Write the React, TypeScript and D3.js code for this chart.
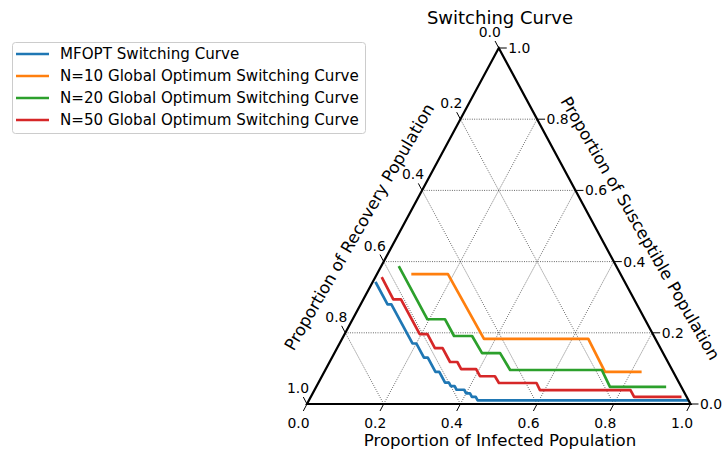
import React from "react";
import * as d3 from "d3";

const titleText = "Switching Curve";
const bottomAxisLabel = "Proportion of Infected Population";
const leftAxisLabel = "Proportion of Recovery Population";
const rightAxisLabel = "Proportion of Susceptible Population";

const seriesNames = [
  "MFOPT Switching Curve",
  "N=10 Global Optimum Switching Curve",
  "N=20 Global Optimum Switching Curve",
  "N=50 Global Optimum Switching Curve",
];
const seriesColors = ["#1f77b4", "#ff7f0e", "#2ca02c", "#d62728"];

const tickValues = [0, 0.2, 0.4, 0.6, 0.8, 1.0];
const tickLabels = ["0.0", "0.2", "0.4", "0.6", "0.8", "1.0"];
const gridValues = [0.2, 0.4, 0.6, 0.8];

// MFOPT curve: infected / susceptible proportions at the staircase corners
const mfoptInfected = [0.01, 0.07, 0.08, 0.19, 0.2, 0.24, 0.25, 0.29, 0.3, 0.33, 0.34, 0.35, 0.36, 0.37, 0.39, 0.4, 0.41, 0.42, 0.43, 0.44, 0.985];
const mfoptSusceptible = [0.34, 0.28, 0.28, 0.17, 0.17, 0.13, 0.13, 0.09, 0.09, 0.06, 0.06, 0.05, 0.05, 0.04, 0.04, 0.03, 0.03, 0.02, 0.02, 0.01, 0.01];

// N=10
const n10Infected = [0.093, 0.185, 0.37, 0.642, 0.732, 0.824];
const n10Susceptible = [0.365, 0.365, 0.183, 0.183, 0.09, 0.09];

// N=20
const n20Infected = [0.049, 0.195, 0.241, 0.288, 0.335, 0.385, 0.432, 0.482, 0.721, 0.766, 0.909];
const n20Susceptible = [0.384, 0.238, 0.238, 0.191, 0.191, 0.143, 0.143, 0.0955, 0.0955, 0.048, 0.048];

// N=50
const n50Infected = [0.02, 0.078, 0.098, 0.196, 0.216, 0.255, 0.275, 0.314, 0.333, 0.353, 0.392, 0.412, 0.451, 0.471, 0.569, 0.588, 0.824, 0.843, 0.963];
const n50Susceptible = [0.353, 0.294, 0.294, 0.196, 0.196, 0.157, 0.157, 0.118, 0.118, 0.098, 0.098, 0.078, 0.078, 0.059, 0.059, 0.039, 0.039, 0.02, 0.02];

const seriesInfected = [mfoptInfected, n10Infected, n20Infected, n50Infected];
const seriesSusceptible = [mfoptSusceptible, n10Susceptible, n20Susceptible, n50Susceptible];

const W = 722;
const H = 453;
const FONT = "DejaVu Sans, sans-serif";

const xScale = d3.scaleLinear().domain([0, 1]).range([307, 690.5]);
const yScale = d3.scaleLinear().domain([0, 1]).range([404, 48]);

// ternary (infected, susceptible) -> pixel
const px = (inf: number, sus: number) => xScale(inf + sus / 2);
const py = (sus: number) => yScale(sus);

const lineGen = d3
  .line<[number, number]>()
  .x((d) => px(d[0], d[1]))
  .y((d) => py(d[1]));

export default function App() {
  const series = seriesNames.map((name, i) => ({
    name,
    color: seriesColors[i],
    pts: seriesInfected[i].map((v, j) => [v, seriesSusceptible[i][j]] as [number, number]),
  }));

  const gridLines: { x1: number; y1: number; x2: number; y2: number }[] = [];
  gridValues.forEach((v) => {
    gridLines.push({ x1: px(0, v), y1: py(v), x2: px(1 - v, v), y2: py(v) });
    gridLines.push({ x1: px(v, 0), y1: py(0), x2: px(v, 1 - v), y2: py(1 - v) });
    gridLines.push({ x1: px(1 - v, 0), y1: py(0), x2: px(0, 1 - v), y2: py(1 - v) });
  });

  const tri = [
    [px(0, 0), py(0)],
    [px(1, 0), py(0)],
    [px(0, 1), py(1)],
  ];

  return (
    <svg width={W} height={H} style={{ position: "absolute", left: 0, top: 0, background: "#fff" }} fontFamily={FONT}>
      <rect x={0} y={0} width={W} height={H} fill="#fff" />
      <g stroke="#222" strokeWidth={0.75} strokeDasharray="0.9 1.4" fill="none">
        {gridLines.map((g, i) => (
          <line key={i} x1={g.x1} y1={g.y1} x2={g.x2} y2={g.y2} />
        ))}
      </g>
      {series.map((s) => (
        <path
          key={s.name}
          d={lineGen(s.pts) || ""}
          fill="none"
          stroke={s.color}
          strokeWidth={2.7}
          strokeLinecap="square"
          strokeLinejoin="round"
        />
      ))}
      <polygon
        points={tri.map((p) => p.join(",")).join(" ")}
        fill="none"
        stroke="#000"
        strokeWidth={2.2}
        strokeLinejoin="miter"
      />
      <g stroke="#000" strokeWidth={1}>
        {tickValues.map((v, i) => {
          const bx = px(v, 0), by = py(0);
          const rx = px(1 - v, v), ry = py(v);
          const lx = px(0, 1 - v), ly = py(1 - v);
          return (
            <g key={i}>
              <line x1={bx} y1={by} x2={bx - 3.7} y2={by + 7} />
              <line x1={rx} y1={ry} x2={rx + 8} y2={ry} />
              <line x1={lx} y1={ly} x2={lx - 3.7} y2={ly - 7} />
            </g>
          );
        })}
      </g>
      <g fontSize={13.9} fill="#000">
        {tickValues.map((v, i) => {
          const bx = px(v, 0);
          const rx = px(1 - v, v), ry = py(v);
          const lx = px(0, 1 - v), ly = py(1 - v);
          return (
            <g key={i}>
              <text x={bx - 8.5} y={428} textAnchor="middle">{tickLabels[i]}</text>
              <text x={rx + 9.5} y={ry + 5} textAnchor="start">{tickLabels[i]}</text>
              <text x={lx - 9} y={ly - 11} textAnchor="middle">{tickLabels[i]}</text>
            </g>
          );
        })}
      </g>
      <text x={500} y={446} textAnchor="middle" fontSize={16.6}>{bottomAxisLabel}</text>
      <text
        transform="translate(359.5,227) rotate(-60)"
        textAnchor="middle"
        dominantBaseline="central"
        fontSize={16.6}
      >
        {leftAxisLabel}
      </text>
      <text
        transform="translate(640,228.5) rotate(60)"
        textAnchor="middle"
        dominantBaseline="central"
        fontSize={16.6}
      >
        {rightAxisLabel}
      </text>
      <text x={500} y={24} textAnchor="middle" fontSize={18}>{titleText}</text>
      <rect x={12.5} y={42.5} width={353} height={91} rx={3} fill="#fff" stroke="#ccc" strokeWidth={1} />
      {series.map((s, i) => {
        const y = 54 + i * 22;
        return (
          <g key={s.name}>
            <line x1={16} x2={49} y1={y} y2={y} stroke={s.color} strokeWidth={2.7} />
            <text x={60} y={y + 5.3} fontSize={15.1}>{s.name}</text>
          </g>
        );
      })}
    </svg>
  );
}
